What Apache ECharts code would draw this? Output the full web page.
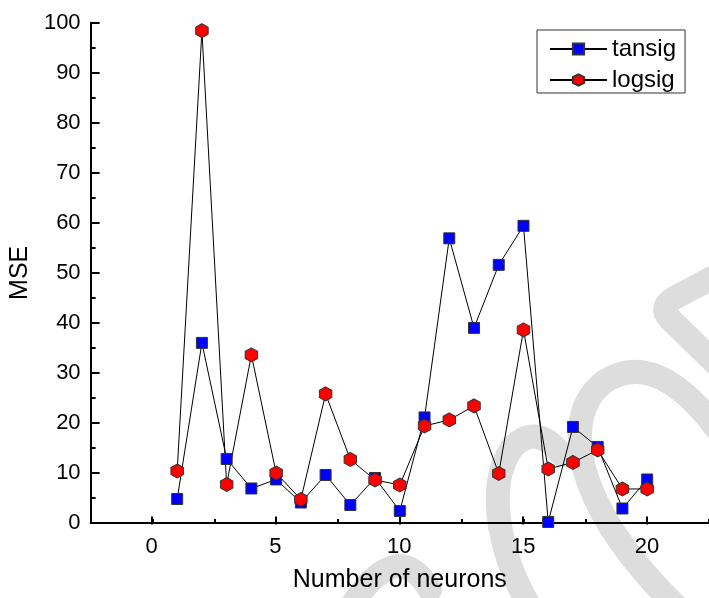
<!DOCTYPE html>
<html>
<head>
<meta charset="utf-8">
<script src="https://cdn.jsdelivr.net/npm/echarts@6/dist/echarts.min.js"></script>
<style>
  html, body { margin: 0; padding: 0; background: #fff; }
  #chart { width: 709px; height: 598px; }
</style>
</head>
<body>
<div id="chart"></div>
<script>
// Number of hidden neurons
const neurons = [1, 2, 3, 4, 5, 6, 7, 8, 9, 10, 11, 12, 13, 14, 15, 16, 17, 18, 19, 20];
// Mean squared error for each transfer function
const tansigMSE = [4.8, 36.0, 12.8, 6.9, 8.7, 4.1, 9.6, 3.6, 9.0, 2.4, 21.1, 56.9, 39.0, 51.6, 59.4, 0.2, 19.2, 15.2, 2.9, 8.7];
const logsigMSE = [10.4, 98.4, 7.7, 33.6, 10.0, 4.7, 25.8, 12.7, 8.6, 7.6, 19.4, 20.6, 23.4, 9.9, 38.6, 10.8, 12.1, 14.6, 6.8, 6.8];
const seriesNames = ['tansig', 'logsig'];

const FONT = '"Liberation Sans", Arial, sans-serif';
const HEX = 'path://M0,-1 L0.866,-0.5 L0.866,0.5 L0,1 L-0.866,0.5 L-0.866,-0.5 Z';

const pairs = (ys) => neurons.map((x, i) => [x, ys[i]]);

// Pale background strokes, each a list of segments:
// [x1, y1, x2, y2] straight, [x1, y1, cx, cy, x2, y2] quadratic
const strokes = [
  [[716, 276, 676, 297], [676, 297, 657, 307, 671, 320], [671, 320, 716, 364]],
  [[716, 428, 655, 348, 604, 382], [604, 382, 570, 408, 584, 468], [584, 468, 602, 535, 680, 610]],
  [[562, 455, 536, 422, 512, 448], [512, 448, 492, 476, 500, 526], [500, 526, 508, 572, 532, 610]],
  [[348, 612, 372, 570, 398, 566], [398, 566, 416, 566, 430, 590]]
];
const strokeStyle = { fill: null, stroke: '#dddddd', lineWidth: 24, lineCap: 'round', lineJoin: 'round' };
const strokeEls = [];
strokes.forEach((segs) => segs.forEach((s) => {
  if (s.length === 4) {
    strokeEls.push({ type: 'line', z: -10, silent: true,
      shape: { x1: s[0], y1: s[1], x2: s[2], y2: s[3] }, style: strokeStyle });
  } else {
    strokeEls.push({ type: 'bezierCurve', z: -10, silent: true,
      shape: { x1: s[0], y1: s[1], cpx1: s[2], cpy1: s[3], x2: s[4], y2: s[5] }, style: strokeStyle });
  }
}));

const gridBox = { top: 22.7, bottom: 73.5, right: -5 };

const chart = echarts.init(document.getElementById('chart'), null, { renderer: 'canvas' });
chart.setOption({
  backgroundColor: '#fff',
  animation: false,
  textStyle: { fontFamily: FONT },
  grid: [
    Object.assign({ left: 89 }, gridBox),
    // companion grid whose x origin sits at 0, used for the major ticks and labels
    Object.assign({ left: 151.5 }, gridBox)
  ],
  xAxis: [
    {
      type: 'value', gridIndex: 0, min: -2.5, max: 22.5, interval: 2.5,
      splitLine: { show: false },
      axisLine: { show: true, onZero: false, lineStyle: { color: '#000', width: 2 } },
      axisTick: { show: true, inside: true, length: 4, lineStyle: { color: '#000', width: 2 } },
      axisLabel: { show: false },
      name: 'Number of neurons', nameLocation: 'middle', nameGap: 45,
      nameTextStyle: { fontFamily: FONT, fontSize: 25, color: '#000' }
    },
    {
      type: 'value', gridIndex: 1, min: 0, max: 22.5, interval: 5,
      splitLine: { show: false },
      axisLine: { show: false, onZero: false },
      axisTick: { show: true, inside: true, length: 8, lineStyle: { color: '#000', width: 2 } },
      axisLabel: { show: true, margin: 11, fontFamily: FONT, fontSize: 22, color: '#000', showMaxLabel: false }
    }
  ],
  yAxis: [
    {
      type: 'value', gridIndex: 0, min: 0, max: 100, interval: 10,
      splitLine: { show: false },
      axisLine: { show: true, onZero: false, lineStyle: { color: '#000', width: 2 } },
      axisTick: { show: true, inside: true, length: 9, lineStyle: { color: '#000', width: 2 } },
      minorTick: { show: true, splitNumber: 2, length: 5, lineStyle: { color: '#000', width: 2 } },
      axisLabel: { margin: 10, fontFamily: FONT, fontSize: 22, color: '#000' },
      name: 'MSE', nameLocation: 'middle', nameGap: 52,
      nameTextStyle: { fontFamily: FONT, fontSize: 25, color: '#000' }
    },
    { type: 'value', gridIndex: 1, min: 0, max: 100, show: false, axisLine: { onZero: false } }
  ],
  legend: {
    data: seriesNames,
    orient: 'vertical',
    left: 537, top: 30,
    padding: [7, 9, 1, 12],
    itemGap: 7,
    itemWidth: 57, itemHeight: 14,
    borderColor: '#333', borderWidth: 1,
    textStyle: { fontFamily: FONT, fontSize: 24, color: '#000', lineHeight: 24 }
  },
  graphic: strokeEls,
  series: [
    {
      name: seriesNames[0], type: 'line', xAxisIndex: 0, yAxisIndex: 0,
      data: pairs(tansigMSE),
      symbol: 'rect', symbolSize: 11,
      lineStyle: { color: '#000', width: 1 },
      itemStyle: { color: '#0000ff', borderColor: '#333', borderWidth: 1 },
      emphasis: { disabled: true }
    },
    {
      name: seriesNames[1], type: 'line', xAxisIndex: 0, yAxisIndex: 0,
      data: pairs(logsigMSE),
      symbol: HEX, symbolSize: [12.5, 14], symbolKeepAspect: false,
      lineStyle: { color: '#000', width: 1 },
      itemStyle: { color: '#ff0000', borderColor: '#333', borderWidth: 1 },
      emphasis: { disabled: true }
    }
  ]
});
</script>
</body>
</html>
